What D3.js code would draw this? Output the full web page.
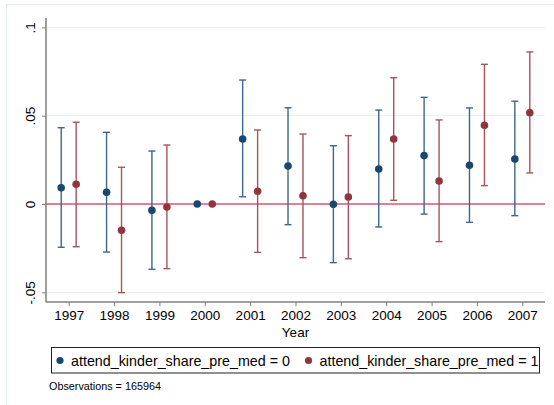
<!DOCTYPE html>
<html>
<head>
<meta charset="utf-8">
<script src="https://cdn.jsdelivr.net/npm/d3@7"></script>
<style>
  body { margin: 0; background: #fff; }
  svg { font-family: "Liberation Sans", Arial, sans-serif; display: block; }
</style>
</head>
<body>
<svg id="chart" width="554" height="405"></svg>
<script>
// point estimates and 95% CIs
const years = [1997, 1998, 1999, 2000, 2001, 2002, 2003, 2004, 2005, 2006, 2007];

const est0 = [0.0092, 0.0066, -0.0036, 0, 0.0368, 0.0215, -0.0002, 0.0198, 0.0274, 0.0219, 0.0255];
const lo0  = [-0.0245, -0.0272, -0.037, null, 0.0041, -0.0117, -0.0332, -0.013, -0.0057, -0.0104, -0.0066];
const hi0  = [0.0432, 0.0406, 0.030, null, 0.0702, 0.0545, 0.033, 0.0532, 0.0604, 0.0544, 0.0582];

const est1 = [0.0112, -0.0149, -0.0017, 0, 0.0072, 0.0047, 0.004, 0.0368, 0.013, 0.0446, 0.0517];
const lo1  = [-0.0242, -0.0502, -0.0366, null, -0.0274, -0.0304, -0.031, 0.0021, -0.0213, 0.0104, 0.0176];
const hi1  = [0.0463, 0.0208, 0.0334, null, 0.0419, 0.0396, 0.0387, 0.0715, 0.0476, 0.0791, 0.0861];

const yTicks = [-0.05, 0, 0.05, 0.1];
const yTickLabels = ["-.05", "0", ".05", ".1"];
const legendLabels = ["attend_kinder_share_pre_med = 0", "attend_kinder_share_pre_med = 1"];
const note = "Observations = 165964";

const svg = d3.select("#chart");

const plotL = 46, plotR = 545, plotT = 18, plotB = 302;

const x = d3.scaleLinear().domain([1996.5, 2007.5]).range([plotL, plotR]);
const y = d3.scaleLinear().domain([0, 0.1]).range([204, 27.4]);

const navy = "#1a476f", maroon = "#90353b";
const navyCI = "#3d6689", maroonCI = "#a8545a";

// outer frame
svg.append("rect")
   .attr("x", 6.5).attr("y", 4.5)
   .attr("width", 560).attr("height", 410)
   .attr("fill", "none")
   .attr("stroke", "#e6eef0");

// gridlines
svg.append("g").selectAll("line")
   .data(yTicks)
   .enter()
   .append("line")
   .attr("x1", plotL).attr("x2", plotR)
   .attr("y1", d => y(d)).attr("y2", d => y(d))
   .attr("stroke", "#eaf2f3")
   .attr("stroke-width", 1.2);

// zero line
svg.append("line")
   .attr("x1", plotL).attr("x2", plotR)
   .attr("y1", y(0)).attr("y2", y(0))
   .attr("stroke", "#dc5a74")
   .attr("stroke-width", 1.6);

// y axis
const yAxis = svg.append("g")
   .attr("transform", `translate(${plotL},0)`)
   .call(d3.axisLeft(y).tickValues(yTicks).tickSize(4).tickFormat((d, i) => yTickLabels[i]));
yAxis.select(".domain").attr("d", `M0,${plotT}V${plotB}`);
yAxis.selectAll(".tick text")
   .attr("transform", "translate(-16,0) rotate(-90)")
   .attr("x", 0).attr("y", 0).attr("dy", "0.35em")
   .attr("text-anchor", "middle");

// x axis
const xAxis = svg.append("g")
   .attr("transform", `translate(0,${plotB})`)
   .call(d3.axisBottom(x).tickValues(years).tickSize(4).tickFormat(d3.format("d")));
xAxis.select(".domain").attr("d", `M${plotL},0H${plotR}`);
xAxis.selectAll("text").attr("y", 8).attr("dy", "0.71em");

[yAxis, xAxis].forEach(a => {
  a.select(".domain").attr("stroke", "#7f7f7f").attr("stroke-width", 1.5);
  a.selectAll(".tick line").attr("stroke", "#7f7f7f").attr("stroke-width", 1);
  a.selectAll("text").attr("fill", "#000").style("font-size", "13.5px");
});

svg.append("text")
   .attr("x", x(2002)).attr("y", 337)
   .attr("text-anchor", "middle")
   .style("font-size", "13.5px")
   .text("Year");

// series
const series = [
  { est: est0, lo: lo0, hi: hi0, off: -0.165, color: navy, ci: navyCI },
  { est: est1, lo: lo1, hi: hi1, off: 0.165, color: maroon, ci: maroonCI }
];

series.forEach(s => {
  const rows = years.map((yr, i) => ({ yr: yr, est: s.est[i], lo: s.lo[i], hi: s.hi[i] }));
  const g = svg.append("g");
  const withCI = rows.filter(r => r.lo !== null);

  g.selectAll(".ci")
   .data(withCI)
   .enter()
   .append("line")
   .attr("x1", r => x(r.yr + s.off)).attr("x2", r => x(r.yr + s.off))
   .attr("y1", r => y(r.lo)).attr("y2", r => y(r.hi))
   .attr("stroke", s.ci).attr("stroke-width", 1.4);

  ["lo", "hi"].forEach(k => {
    g.selectAll(".cap-" + k)
     .data(withCI)
     .enter()
     .append("line")
     .attr("x1", r => x(r.yr + s.off) - 3.5).attr("x2", r => x(r.yr + s.off) + 3.5)
     .attr("y1", r => y(r[k])).attr("y2", r => y(r[k]))
     .attr("stroke", s.ci).attr("stroke-width", 1.4);
  });

  g.selectAll("circle")
   .data(rows)
   .enter()
   .append("circle")
   .attr("cx", r => x(r.yr + s.off))
   .attr("cy", r => y(r.est))
   .attr("r", 3.8)
   .attr("fill", s.color);
});

// legend
svg.append("rect")
   .attr("x", 51.5).attr("y", 347.5)
   .attr("width", 488).attr("height", 25.5)
   .attr("fill", "#fff")
   .attr("stroke", "#222").attr("stroke-width", 1);

const legendX = [60, 308.5];
legendLabels.forEach((lab, i) => {
  svg.append("circle")
     .attr("cx", legendX[i]).attr("cy", 360.5)
     .attr("r", 3.6)
     .attr("fill", series[i].color);
  svg.append("text")
     .attr("x", legendX[i] + 11).attr("y", 365.5)
     .style("font-size", "14.3px")
     .text(lab);
});

svg.append("text")
   .attr("x", 49).attr("y", 390)
   .style("font-size", "10.8px")
   .text(note);
</script>
</body>
</html>
